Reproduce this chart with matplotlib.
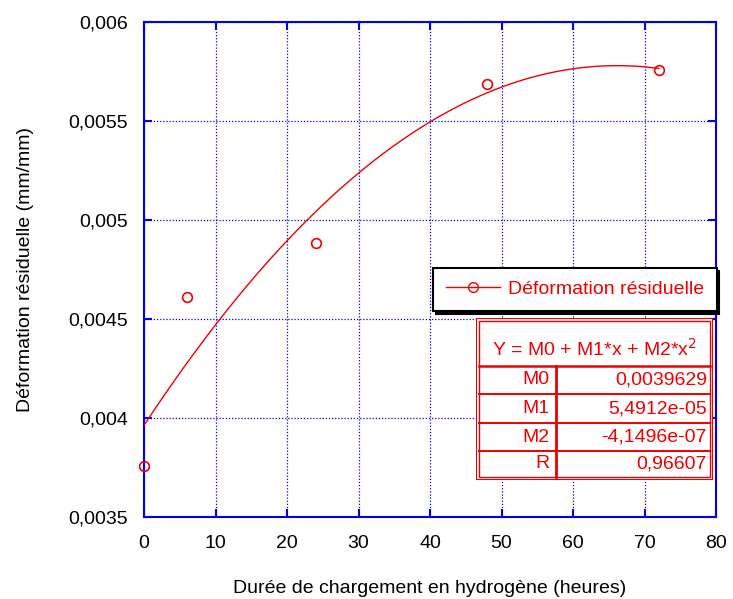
import numpy as np
import matplotlib
matplotlib.use("Agg")
import matplotlib.pyplot as plt
from matplotlib.lines import Line2D
from matplotlib.patches import Rectangle

plt.rcParams['font.family'] = ['Liberation Sans', 'DejaVu Sans']

# data
hours = [0, 6, 24, 48, 72]
strain = [0.003758, 0.004611, 0.004884, 0.005687, 0.005758]
fit_M0 = 0.0039629
fit_M1 = 5.4912e-05
fit_M2 = -4.1496e-07
fit_R = 0.96607
xticks = [0, 10, 20, 30, 40, 50, 60, 70, 80]
yticks = [0.0035, 0.004, 0.0045, 0.005, 0.0055, 0.006]
ytick_labels = ["0,0035", "0,004", "0,0045", "0,005", "0,0055", "0,006"]
table_rows = [("M0", "0,0039629"), ("M1", "5,4912e-05"), ("M2", "-4,1496e-07"), ("R", "0,96607")]

blue = "#0000ee"
red = "#ee0000"
FS = 14

fig = plt.figure(figsize=(7.33, 5.99), dpi=100)
W, H = 733, 599
def fx(px): return px / W
def fy(py): return 1 - py / H

ax = fig.add_axes([fx(144), fy(517), fx(716) - fx(144), fy(22) - fy(517)])

xs = np.linspace(0, max(hours), 200)
ys = fit_M0 + fit_M1 * xs + fit_M2 * xs ** 2
ax.plot(xs, ys, color=red, lw=1.0, zorder=3)
ax.plot(hours, strain, linestyle='none', marker='o', markersize=7,
        markerfacecolor='none', markeredgecolor=red, markeredgewidth=1.2, zorder=4,
        clip_on=False)

ax.set_xlim(0, 80)
ax.set_ylim(0.0035, 0.006)
ax.set_xticks(xticks)
ax.set_xticklabels([str(v) for v in xticks])
ax.set_yticks(yticks)
ax.set_yticklabels(ytick_labels)
ax.grid(True, color=blue, linestyle=(0, (1, 1.5)), linewidth=0.9)
for s in ax.spines.values():
    s.set_color(blue)
    s.set_linewidth(1.5)
ax.tick_params(direction='in', length=6, width=1.5, color=blue, top=True, right=True,
               labelsize=FS)
ax.tick_params(axis='y', pad=11.5)
ax.tick_params(axis='x', pad=13)
ax.set_xlabel("Durée de chargement en hydrogène (heures)", fontsize=FS, labelpad=20)
ax.set_ylabel("Déformation résiduelle (mm/mm)", fontsize=FS, labelpad=25)

# legend
handle = Line2D([], [], color=red, lw=1.0, marker='o', markersize=7,
                markerfacecolor='none', markeredgecolor=red)
leg = ax.legend([handle], ["Déformation résiduelle"], loc='upper left',
                bbox_to_anchor=(fx(433), fy(268)), bbox_transform=fig.transFigure,
                fancybox=False, frameon=True, edgecolor='black', framealpha=1,
                shadow={'color': 'black', 'alpha': 1}, fontsize=FS, labelcolor=red,
                borderpad=0.65, handlelength=2.8, handletextpad=0.4, borderaxespad=0)
leg.get_frame().set_linewidth(1.5)

# fit table
tx0, tx1, ty0, ty1 = 476, 713, 318, 480
tab = fig.add_axes([fx(tx0), fy(ty1), fx(tx1) - fx(tx0), fy(ty0) - fy(ty1)])
tab.set_xlim(tx0, tx1)
tab.set_ylim(ty1, ty0)
tab.axis('off')
tab.add_patch(Rectangle((tx0, ty0), tx1 - tx0, ty1 - ty0, facecolor='white', edgecolor=red, lw=1.5))
tab.add_patch(Rectangle((tx0 + 3, ty0 + 3), tx1 - tx0 - 6, ty1 - ty0 - 6, facecolor='none', edgecolor=red, lw=1.0))
row_lines = [366, 394, 423, 451]
for yl in row_lines:
    tab.plot([tx0 + 3, tx1 - 3], [yl, yl], color=red, lw=1.8 if yl == 366 else 1.4)
tab.plot([556, 556], [366, ty1 - 3], color=red, lw=2.0)
tab.text((tx0 + tx1) / 2, 349, r"Y = M0 + M1*x + M2*x$^{2}$", color=red, fontsize=FS,
         ha='center', va='center')
bounds = row_lines + [ty1 - 3]
for i, (name, val) in enumerate(table_rows):
    yc = (bounds[i] + bounds[i + 1]) / 2
    tab.text(550, yc, name, color=red, fontsize=FS, ha='right', va='center')
    tab.text(707, yc, val, color=red, fontsize=FS, ha='right', va='center')

fig.savefig("out.png", dpi=100)
